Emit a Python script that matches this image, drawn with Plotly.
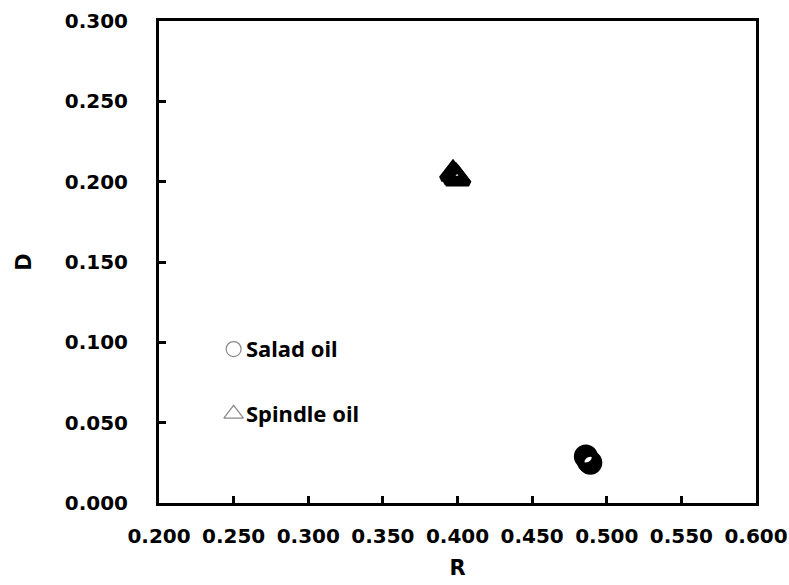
import plotly.graph_objects as go

# Measured (R, D) points for each oil
salad_r = [0.486, 0.488, 0.489]
salad_d = [0.029, 0.026, 0.025]
spindle_r = [0.397, 0.399, 0.400]
spindle_d = [0.205, 0.203, 0.202]

x_ticks = [0.20, 0.25, 0.30, 0.35, 0.40, 0.45, 0.50, 0.55, 0.60]
y_ticks = [0.00, 0.05, 0.10, 0.15, 0.20, 0.25, 0.30]

# Key entries drawn inside the plot area
key_names = ["Salad oil", "Spindle oil"]
key_symbols = ["circle-open", "triangle-up-open"]
key_x = 0.25
key_y = [0.0958, 0.0555]

fig = go.Figure()
fig.add_trace(go.Scatter(
    x=salad_r, y=salad_d, mode="markers", name="Salad oil",
    marker=dict(symbol="circle-open", size=18, color="black", line=dict(width=6)),
))
fig.add_trace(go.Scatter(
    x=spindle_r, y=spindle_d, mode="markers", name="Spindle oil",
    marker=dict(symbol="triangle-up-open", size=20, color="black", line=dict(width=6)),
))

# key symbols
fig.add_trace(go.Scatter(
    x=[key_x, key_x], y=key_y, mode="markers", hoverinfo="skip",
    marker=dict(symbol=key_symbols, size=[15, 17], color="#555", line=dict(width=1.2)),
))
for name, ky in zip(key_names, key_y):
    fig.add_annotation(x=key_x, y=ky, xref="x", yref="y", xanchor="left", yanchor="middle",
                       text=f"<b>{name}</b>", showarrow=False, xshift=10, yshift=1,
                       font=dict(family="Noto Sans", size=22, color="black"))

tick_font = dict(family="DejaVu Sans", size=20, color="black", weight="bold")
title_font = dict(family="DejaVu Sans", size=21, color="black")
fig.update_xaxes(
    range=[0.2, 0.6], tickvals=x_ticks, ticktext=[f"{v:.3f}" for v in x_ticks],
    showline=True, linewidth=3, linecolor="black", mirror=True,
    ticks="inside", ticklen=7, tickwidth=2.5, tickcolor="black",
    showgrid=False, zeroline=False, tickfont=tick_font, ticklabelstandoff=13,
    automargin=False,
    title=dict(text="<b>R</b>", font=title_font, standoff=14),
)
fig.update_yaxes(
    range=[0, 0.3], tickvals=y_ticks, ticktext=[f"{v:.3f}" for v in y_ticks],
    showline=True, linewidth=3, linecolor="black", mirror=True,
    ticks="inside", ticklen=7, tickwidth=2.5, tickcolor="black",
    showgrid=False, zeroline=False, tickfont=tick_font, ticklabelstandoff=24,
    automargin=False,
    title=dict(text="<b>D</b>", font=title_font, standoff=28),
)
fig.update_layout(
    width=789, height=585,
    margin=dict(l=159, r=33, t=21, b=82),
    paper_bgcolor="white", plot_bgcolor="white",
    showlegend=False,
)
fig.write_html("out.html")
